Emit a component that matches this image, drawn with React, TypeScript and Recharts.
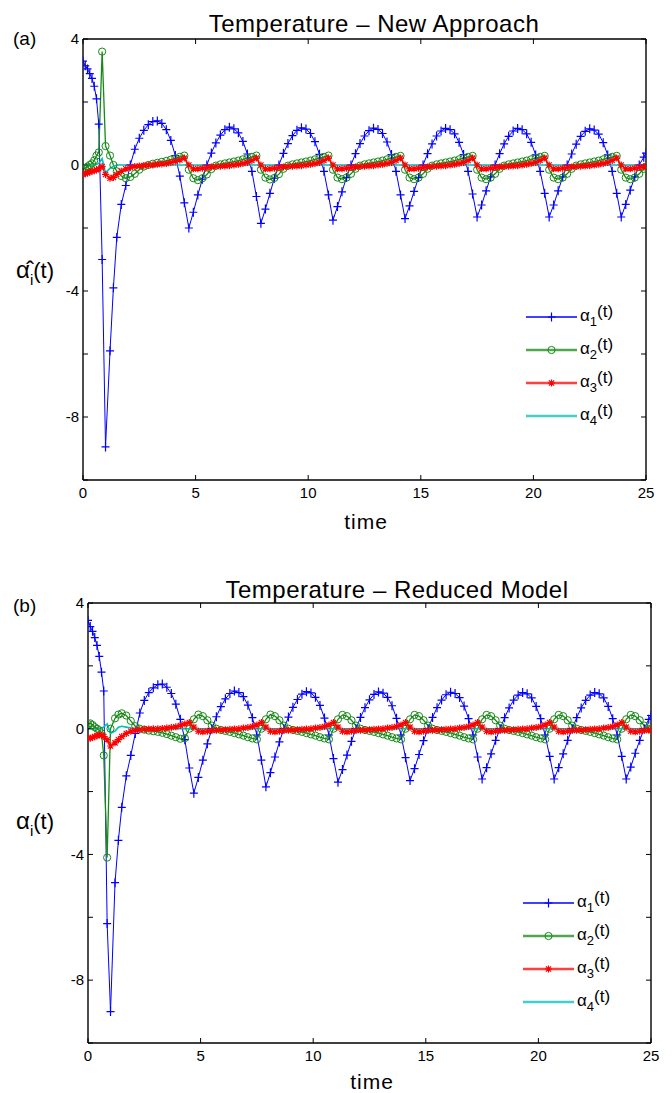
import React from 'react';
import { LineChart, Line, XAxis, YAxis, Legend } from 'recharts';

const FONT = '"Liberation Sans", Arial, Helvetica, sans-serif';

// time samples (dense at the start, then every 0.2)
const time = [
  0, 0.1, 0.2, 0.3, 0.4, 0.5, 0.6, 0.7, 0.85, 1.0, 1.2, 1.35, 1.5,
  1.7, 1.9, 2.1, 2.3, 2.5, 2.7, 2.9, 3.1, 3.3, 3.5, 3.7, 3.9, 4.1, 4.3, 4.5,
  4.7, 4.9, 5.1, 5.3, 5.5, 5.7, 5.9, 6.1, 6.3, 6.5, 6.7, 6.9, 7.1, 7.3, 7.5, 7.7,
  7.9, 8.1, 8.3, 8.5, 8.7, 8.9, 9.1, 9.3, 9.5, 9.7, 9.9, 10.1, 10.3, 10.5, 10.7, 10.9,
  11.1, 11.3, 11.5, 11.7, 11.9, 12.1, 12.3, 12.5, 12.7, 12.9, 13.1, 13.3, 13.5, 13.7, 13.9, 14.1,
  14.3, 14.5, 14.7, 14.9, 15.1, 15.3, 15.5, 15.7, 15.9, 16.1, 16.3, 16.5, 16.7, 16.9, 17.1, 17.3,
  17.5, 17.7, 17.9, 18.1, 18.3, 18.5, 18.7, 18.9, 19.1, 19.3, 19.5, 19.7, 19.9, 20.1, 20.3, 20.5,
  20.7, 20.9, 21.1, 21.3, 21.5, 21.7, 21.9, 22.1, 22.3, 22.5, 22.7, 22.9, 23.1, 23.3, 23.5, 23.7,
  23.9, 24.1, 24.3, 24.5, 24.7, 24.9, 25.0,
];

// (a) new approach
const newAlpha1 = [
  3.3, 3.15, 3.05, 2.9, 2.75, 2.5, 2.1, 1.3, -3.0, -8.95, -5.9, -3.9, -2.3,
  -1.25, -0.65, 0.0, 0.5, 0.85, 1.1, 1.28, 1.38, 1.4, 1.32, 1.12, 0.78, 0.3, -0.35, -1.2,
  -2.0, -1.5, -0.95, -0.45, 0.0, 0.38, 0.7, 0.95, 1.12, 1.2, 1.15, 1.02, 0.75, 0.35, -0.2, -1.0,
  -1.85, -1.4, -0.9, -0.42, 0.0, 0.37, 0.68, 0.93, 1.1, 1.18, 1.14, 1.0, 0.74, 0.34, -0.2, -0.95,
  -1.75, -1.32, -0.85, -0.4, 0.0, 0.36, 0.68, 0.92, 1.09, 1.17, 1.13, 1.0, 0.73, 0.33, -0.2, -0.95,
  -1.7, -1.3, -0.84, -0.4, 0.0, 0.36, 0.67, 0.92, 1.08, 1.16, 1.12, 0.99, 0.72, 0.33, -0.2, -0.92,
  -1.65, -1.27, -0.82, -0.38, 0.0, 0.36, 0.67, 0.91, 1.08, 1.16, 1.12, 0.99, 0.72, 0.32, -0.2, -0.9,
  -1.65, -1.27, -0.82, -0.38, 0.0, 0.35, 0.66, 0.91, 1.07, 1.15, 1.11, 0.98, 0.71, 0.32, -0.2, -0.9,
  -1.65, -1.25, -0.8, -0.38, 0.0, 0.25, 0.38,
];
const newAlpha2 = [
  -0.15, -0.1, -0.05, 0.0, 0.05, 0.15, 0.3, 0.4, 3.6, 0.6, 0.3, 0.0, -0.2,
  -0.35, -0.42, -0.38, -0.28, -0.15, -0.05, 0.0, 0.04, 0.07, 0.1, 0.13, 0.17, 0.21, 0.26, 0.3,
  -0.15, -0.42, -0.48, -0.42, -0.3, -0.13, -0.02, 0.02, 0.05, 0.08, 0.11, 0.14, 0.18, 0.22, 0.26, 0.3,
  -0.15, -0.4, -0.46, -0.41, -0.29, -0.12, -0.02, 0.02, 0.05, 0.08, 0.11, 0.14, 0.18, 0.22, 0.26, 0.3,
  -0.15, -0.4, -0.45, -0.4, -0.28, -0.12, -0.02, 0.02, 0.05, 0.08, 0.11, 0.14, 0.18, 0.22, 0.26, 0.29,
  -0.15, -0.4, -0.45, -0.4, -0.28, -0.12, -0.02, 0.02, 0.05, 0.08, 0.11, 0.14, 0.18, 0.22, 0.26, 0.29,
  -0.15, -0.4, -0.45, -0.4, -0.28, -0.12, -0.02, 0.02, 0.05, 0.08, 0.11, 0.14, 0.18, 0.22, 0.26, 0.29,
  -0.15, -0.4, -0.45, -0.4, -0.28, -0.12, -0.02, 0.02, 0.05, 0.08, 0.11, 0.14, 0.18, 0.22, 0.26, 0.29,
  -0.15, -0.4, -0.45, -0.4, -0.28, -0.12, -0.05,
];
const newAlpha3 = [
  -0.3, -0.28, -0.25, -0.22, -0.2, -0.18, -0.15, -0.12, -0.05, -0.3, -0.42, -0.4, -0.3,
  -0.2, -0.12, -0.08, -0.05, -0.03, -0.02, 0.0, 0.0, 0.02, 0.03, 0.05, 0.08, 0.12, 0.16, 0.22,
  0.0, -0.12, -0.12, -0.1, -0.08, -0.06, -0.05, -0.04, -0.03, -0.02, 0.0, 0.02, 0.05, 0.08, 0.14, 0.22,
  0.0, -0.12, -0.12, -0.1, -0.08, -0.06, -0.05, -0.04, -0.03, -0.02, 0.0, 0.02, 0.05, 0.08, 0.14, 0.22,
  0.0, -0.12, -0.12, -0.1, -0.08, -0.06, -0.05, -0.04, -0.03, -0.02, 0.0, 0.02, 0.05, 0.08, 0.14, 0.22,
  0.0, -0.12, -0.12, -0.1, -0.08, -0.06, -0.05, -0.04, -0.03, -0.02, 0.0, 0.02, 0.05, 0.08, 0.14, 0.22,
  0.0, -0.12, -0.12, -0.1, -0.08, -0.06, -0.05, -0.04, -0.03, -0.02, 0.0, 0.02, 0.05, 0.08, 0.14, 0.22,
  0.0, -0.12, -0.12, -0.1, -0.08, -0.06, -0.05, -0.04, -0.03, -0.02, 0.0, 0.02, 0.05, 0.08, 0.14, 0.22,
  0.0, -0.12, -0.12, -0.1, -0.08, -0.06, -0.05,
];
const newAlpha4 = [
  0, 0, 0, 0, 0, 0, 0.02, 0.05, 0.2, -0.25, -0.1, -0.05, 0,
  0, 0, 0, 0, 0, 0, 0, 0, 0, 0, 0, 0, 0, 0, 0,
  0, 0, 0, 0, 0, 0, 0, 0, 0, 0, 0, 0, 0, 0, 0, 0,
  0, 0, 0, 0, 0, 0, 0, 0, 0, 0, 0, 0, 0, 0, 0, 0,
  0, 0, 0, 0, 0, 0, 0, 0, 0, 0, 0, 0, 0, 0, 0, 0,
  0, 0, 0, 0, 0, 0, 0, 0, 0, 0, 0, 0, 0, 0, 0, 0,
  0, 0, 0, 0, 0, 0, 0, 0, 0, 0, 0, 0, 0, 0, 0, 0,
  0, 0, 0, 0, 0, 0, 0, 0, 0, 0, 0, 0, 0, 0, 0, 0,
  0, 0, 0, 0, 0, 0, 0,
];

// (b) reduced model
const reducedAlpha1 = [
  3.45, 3.25, 3.1, 2.9, 2.65, 2.3, 1.8, 1.2, -6.2, -9.0, -4.9, -3.55, -2.5,
  -1.5, -0.85, -0.15, 0.5, 0.9, 1.15, 1.3, 1.4, 1.42, 1.32, 1.12, 0.78, 0.3, -0.35, -1.25,
  -2.05, -1.55, -1.0, -0.48, 0.0, 0.38, 0.7, 0.95, 1.12, 1.2, 1.15, 1.02, 0.75, 0.35, -0.2, -1.0,
  -1.85, -1.4, -0.9, -0.42, 0.0, 0.37, 0.68, 0.93, 1.1, 1.18, 1.14, 1.0, 0.74, 0.34, -0.2, -0.95,
  -1.7, -1.3, -0.84, -0.4, 0.0, 0.36, 0.67, 0.92, 1.09, 1.17, 1.13, 1.0, 0.73, 0.33, -0.2, -0.92,
  -1.65, -1.27, -0.82, -0.38, 0.0, 0.36, 0.67, 0.91, 1.08, 1.16, 1.12, 0.99, 0.72, 0.32, -0.2, -0.9,
  -1.6, -1.24, -0.8, -0.37, 0.0, 0.35, 0.66, 0.91, 1.07, 1.15, 1.11, 0.98, 0.71, 0.32, -0.2, -0.88,
  -1.6, -1.24, -0.8, -0.37, 0.0, 0.35, 0.66, 0.9, 1.07, 1.15, 1.11, 0.98, 0.71, 0.32, -0.2, -0.88,
  -1.6, -1.22, -0.78, -0.37, 0.0, 0.3, 0.42,
];
const reducedAlpha2 = [
  0.15, 0.17, 0.12, 0.05, 0.0, -0.05, -0.15, -0.85, -4.1, 0.0, 0.33, 0.45, 0.49,
  0.42, 0.25, 0.08, 0.0, -0.03, -0.06, -0.08, -0.1, -0.13, -0.17, -0.22, -0.27, -0.32, -0.3, 0.0,
  0.3, 0.45, 0.4, 0.27, 0.1, 0.0, -0.04, -0.07, -0.1, -0.14, -0.18, -0.22, -0.27, -0.31, -0.34, 0.0,
  0.3, 0.45, 0.4, 0.27, 0.1, 0.0, -0.04, -0.07, -0.1, -0.14, -0.18, -0.22, -0.27, -0.31, -0.34, 0.0,
  0.3, 0.44, 0.4, 0.27, 0.1, 0.0, -0.04, -0.07, -0.1, -0.14, -0.18, -0.22, -0.27, -0.31, -0.34, 0.0,
  0.3, 0.44, 0.4, 0.27, 0.1, 0.0, -0.04, -0.07, -0.1, -0.14, -0.18, -0.22, -0.27, -0.31, -0.34, 0.0,
  0.3, 0.44, 0.4, 0.27, 0.1, 0.0, -0.04, -0.07, -0.1, -0.14, -0.18, -0.22, -0.27, -0.31, -0.34, 0.0,
  0.3, 0.44, 0.4, 0.27, 0.1, 0.0, -0.04, -0.07, -0.1, -0.14, -0.18, -0.22, -0.27, -0.31, -0.34, 0.0,
  0.3, 0.44, 0.4, 0.27, 0.1, 0.0, -0.02,
];
const reducedAlpha3 = [
  -0.3, -0.3, -0.28, -0.25, -0.22, -0.2, -0.2, -0.25, -0.35, -0.55, -0.45, -0.35, -0.25,
  -0.15, -0.08, -0.05, -0.03, -0.02, -0.01, 0.0, 0.0, 0.01, 0.02, 0.04, 0.06, 0.1, 0.15, 0.2,
  0.05, -0.08, -0.1, -0.08, -0.06, -0.05, -0.04, -0.03, -0.02, -0.01, 0.0, 0.02, 0.04, 0.07, 0.12, 0.2,
  0.05, -0.08, -0.1, -0.08, -0.06, -0.05, -0.04, -0.03, -0.02, -0.01, 0.0, 0.02, 0.04, 0.07, 0.12, 0.2,
  0.05, -0.08, -0.1, -0.08, -0.06, -0.05, -0.04, -0.03, -0.02, -0.01, 0.0, 0.02, 0.04, 0.07, 0.12, 0.2,
  0.05, -0.08, -0.1, -0.08, -0.06, -0.05, -0.04, -0.03, -0.02, -0.01, 0.0, 0.02, 0.04, 0.07, 0.12, 0.2,
  0.05, -0.08, -0.1, -0.08, -0.06, -0.05, -0.04, -0.03, -0.02, -0.01, 0.0, 0.02, 0.04, 0.07, 0.12, 0.2,
  0.05, -0.08, -0.1, -0.08, -0.06, -0.05, -0.04, -0.03, -0.02, -0.01, 0.0, 0.02, 0.04, 0.07, 0.12, 0.2,
  0.05, -0.08, -0.1, -0.08, -0.06, -0.05, -0.04,
];
const reducedAlpha4 = [
  0, 0, 0, 0, 0, 0, 0.02, 0.05, 0.15, -0.15, -0.08, 0.05, 0.08,
  0.05, 0.02, 0, 0, 0, 0, 0, 0, 0, 0, 0, 0, 0, 0, 0,
  0, 0, 0, 0, 0, 0, 0, 0, 0, 0, 0, 0, 0, 0, 0, 0,
  0, 0, 0, 0, 0, 0, 0, 0, 0, 0, 0, 0, 0, 0, 0, 0,
  0, 0, 0, 0, 0, 0, 0, 0, 0, 0, 0, 0, 0, 0, 0, 0,
  0, 0, 0, 0, 0, 0, 0, 0, 0, 0, 0, 0, 0, 0, 0, 0,
  0, 0, 0, 0, 0, 0, 0, 0, 0, 0, 0, 0, 0, 0, 0, 0,
  0, 0, 0, 0, 0, 0, 0, 0, 0, 0, 0, 0, 0, 0, 0, 0,
  0, 0, 0, 0, 0, 0, 0,
];

const xTicks = [0, 5, 10, 15, 20, 25];
const yTicks = [-10, -8, -6, -4, -2, 0, 2, 4];
const yLabelled = [4, 0, -4, -8];
const seriesSubs = ['1', '2', '3', '4'];

const BLUE = '#0000ff';
const GREEN = '#168a16';
const RED = '#ff0000';
const CYAN = '#00bfbf';

const SERIES = [
  { key: 'a1', color: BLUE, marker: 'plus', width: 1 },
  { key: 'a2', color: GREEN, marker: 'circle', width: 1.3 },
  { key: 'a3', color: RED, marker: 'star', width: 1.3 },
  { key: 'a4', color: CYAN, marker: 'none', width: 1.6 },
];

function buildRows(s1: number[], s2: number[], s3: number[], s4: number[]) {
  return time.map((t, i) => ({ t, a1: s1[i], a2: s2[i], a3: s3[i], a4: s4[i] }));
}

function markerPath(kind: string, cx: number, cy: number) {
  if (kind === 'plus') return `M${cx - 4},${cy}H${cx + 4}M${cx},${cy - 4.5}V${cy + 4.5}`;
  if (kind === 'star') {
    const d = 2.6;
    return `M${cx - 3.5},${cy}H${cx + 3.5}M${cx},${cy - 3.5}V${cy + 3.5}` +
      `M${cx - d},${cy - d}L${cx + d},${cy + d}M${cx - d},${cy + d}L${cx + d},${cy - d}`;
  }
  return '';
}

function Marker({ kind, cx, cy, color }: { kind: string; cx: number; cy: number; color: string }) {
  if (kind === 'circle') {
    return <circle cx={cx} cy={cy} r={3.6} fill="none" stroke={color} strokeWidth={1} />;
  }
  if (kind === 'none') return <g />;
  return <path d={markerPath(kind, cx, cy)} stroke={color} strokeWidth={1.2} fill="none" />;
}

function dotFor(kind: string, color: string) {
  return (p: any) => {
    if (p.cx == null || p.cy == null || kind === 'none') return <g key={`d-${p.index}`} />;
    return <Marker key={`d-${p.index}`} kind={kind} cx={p.cx} cy={p.cy} color={color} />;
  };
}

function LegendBox() {
  return (
    <svg width={130} height={130} style={{ overflow: 'visible' }}>
      {SERIES.map((s, i) => {
        const y = 10 + i * 33;
        const lineW = s.key === 'a1' ? 1.6 : 2.6;
        return (
          <g key={s.key}>
            <line x1={6} x2={57} y1={y} y2={y} stroke={s.color} strokeWidth={lineW} strokeOpacity={s.key === 'a1' ? 1 : 0.75} />
            {s.marker !== 'none' && (
              <Marker kind={s.marker} cx={31.5} cy={y} color={s.color} />
            )}
            <text x={60} y={y + 4} fontFamily={FONT} fill="#000">
              <tspan fontSize={17}>α</tspan>
              <tspan fontSize={13} dy={5}>{seriesSubs[i]}</tspan>
              <tspan fontSize={17} dy={-9}>(t)</tspan>
            </text>
          </g>
        );
      })}
    </svg>
  );
}

interface PanelProps {
  rows: any[];
  top: number;
  height: number;
  margin: { top: number; right: number; bottom: number; left: number };
  legendPos: { left: number; top: number };
}

function Panel({ rows, top, height, margin, legendPos }: PanelProps) {
  const axisLine = { stroke: '#000', strokeWidth: 1.4 };
  const tickStyle = { fill: '#000', fontSize: 15, fontFamily: FONT };
  return (
    <div style={{ position: 'absolute', left: 0, top, width: 672, height }}>
      <LineChart width={672} height={height} data={rows} margin={margin}>
        <XAxis
          dataKey="t" type="number" domain={[0, 25]} ticks={xTicks} interval={0}
          height={1} tickSize={-5} tickMargin={12} axisLine={axisLine}
          tickLine={{ stroke: '#000' }} tick={tickStyle} allowDataOverflow
        />
        <XAxis
          xAxisId="top" orientation="top" dataKey="t" type="number" domain={[0, 25]}
          ticks={xTicks} interval={0} height={1} tickSize={-5} axisLine={axisLine}
          tickLine={{ stroke: '#000' }} tickFormatter={() => ''} allowDataOverflow
        />
        <YAxis
          type="number" domain={[-10, 4]} ticks={yTicks} interval={0} width={1}
          tickSize={-5} tickMargin={9} axisLine={axisLine} tickLine={{ stroke: '#000' }}
          tick={tickStyle} allowDataOverflow
          tickFormatter={(v: number) => (yLabelled.includes(v) ? String(v) : '')}
        />
        <YAxis
          yAxisId="right" orientation="right" type="number" domain={[-10, 4]} ticks={yTicks}
          interval={0} width={1} tickSize={-5} axisLine={axisLine} tickLine={{ stroke: '#000' }}
          tickFormatter={() => ''} allowDataOverflow
        />
        {SERIES.map((s) => (
          <Line
            key={s.key}
            type="linear"
            dataKey={s.key}
            stroke={s.color}
            strokeWidth={s.width}
            dot={dotFor(s.marker, s.color)}
            activeDot={false}
            isAnimationActive={false}
          />
        ))}
        <Legend
          layout="horizontal"
          verticalAlign="middle"
          align="center"
          content={() => <LegendBox />}
          wrapperStyle={{ left: legendPos.left, top: legendPos.top, width: 130, height: 130 }}
        />
      </LineChart>
    </div>
  );
}

const rowsNew = buildRows(newAlpha1, newAlpha2, newAlpha3, newAlpha4);
const rowsReduced = buildRows(reducedAlpha1, reducedAlpha2, reducedAlpha3, reducedAlpha4);

export default function App() {
  return (
    <div style={{ position: 'absolute', left: 0, top: 0, width: 672, height: 1093, background: '#fff' }}>
      <Panel
        rows={rowsNew}
        top={0}
        height={540}
        margin={{ top: 38, right: 25, bottom: 59, left: 82 }}
        legendPos={{ left: 520, top: 307 }}
      />
      <Panel
        rows={rowsReduced}
        top={540}
        height={553}
        margin={{ top: 62, right: 20, bottom: 49, left: 87 }}
        legendPos={{ left: 517, top: 353 }}
      />
      <svg
        width={672}
        height={1093}
        style={{ position: 'absolute', left: 0, top: 0, pointerEvents: 'none' }}
        fontFamily={FONT}
      >
        <text x={374} y={32} textAnchor="middle" fontSize={24} letterSpacing={0.5}>
          Temperature – New Approach
        </text>
        <text x={397} y={598} textAnchor="middle" fontSize={24} letterSpacing={0.5}>
          Temperature – Reduced Model
        </text>
        <text x={13} y={45} fontSize={19}>(a)</text>
        <text x={13} y={612} fontSize={19}>(b)</text>

        <text x={16} y={278}>
          <tspan fontSize={24}>{'\u03B1\u0302'}</tspan>
          <tspan fontSize={15} dy={7}>i</tspan>
          <tspan fontSize={22} dy={-7}>(t)</tspan>
        </text>
        <text x={16} y={829}>
          <tspan fontSize={24}>α</tspan>
          <tspan fontSize={15} dy={7}>i</tspan>
          <tspan fontSize={22} dy={-7}>(t)</tspan>
        </text>

        <text x={366} y={529} textAnchor="middle" fontSize={21} letterSpacing={1}>time</text>
        <text x={372} y={1089} textAnchor="middle" fontSize={21} letterSpacing={1}>time</text>
      </svg>
    </div>
  );
}
